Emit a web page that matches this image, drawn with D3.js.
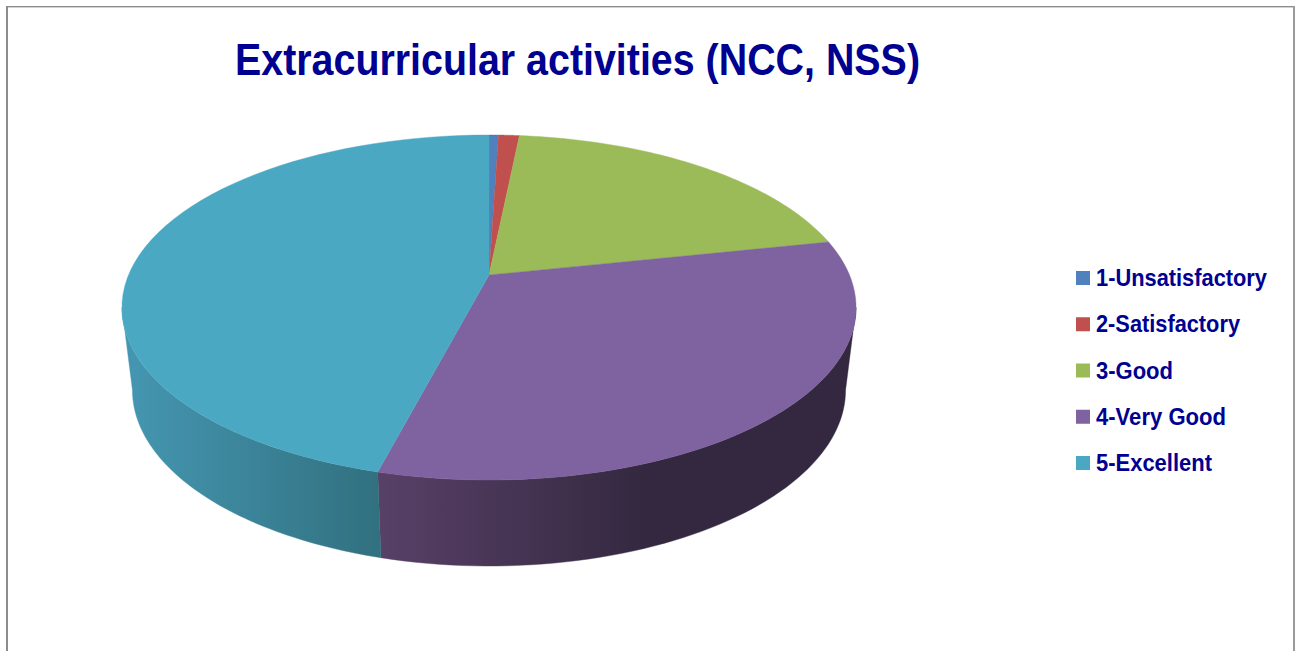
<!DOCTYPE html>
<html><head><meta charset="utf-8">
<script src="https://cdn.jsdelivr.net/npm/d3@7"></script>
<style>html,body{margin:0;padding:0;background:#fff;overflow:hidden}svg{display:block}text{font-family:"Liberation Sans",Arial,sans-serif;font-weight:bold;fill:#000091}</style>
</head><body><svg id="c" width="1295" height="651"></svg>
<script>
const titleText = "Extracurricular activities (NCC, NSS)";
const categories = ["1-Unsatisfactory","2-Satisfactory","3-Good","4-Very Good","5-Excellent"];
const shares = [0.5,1.1,20.1,32.36,45.94];
const colours = ["#4f81bd","#c0504d","#9bbb59","#7f62a0","#4aa8c3"];
const legendWidths = [171,144,77,130,116];

const svg = d3.select("#c");
const W = 1295, H = 651;
// frame
svg.append("rect").attr("x",6).attr("y",6).attr("width",2).attr("height",H-6).attr("fill","#8c8c8c");
svg.append("rect").attr("x",6).attr("y",6).attr("width",W-6).attr("height",1.4).attr("fill","#8c8c8c");
svg.append("rect").attr("x",1293).attr("y",6).attr("width",2).attr("height",H-6).attr("fill","#9a9a9a");

svg.append("text").attr("x",235).attr("y",75).attr("font-size",44)
  .attr("textLength",685).attr("lengthAdjust","spacingAndGlyphs").text(titleText);

// perspective disc projections (angle clockwise from 12 o'clock)
const persp = -0.1884;
const proj = (k,a,b) => t => {
  const u = Math.sin(t), v = -Math.cos(t), w = 1 + persp*v;
  return [489 + k*u/w, (a*v+b)/w];
};
const topFace = proj(360.5,114.6,275);
const botFace = proj(350.2,102.6,356.8);
const line = d3.line();
const arcs = d3.pie().sort(null).startAngle(0).endAngle(2*Math.PI)(shares);
const samples = (a0,a1) => d3.range(0,61).map(i => a0+(a1-a0)*i/60);

const defs = svg.append("defs");
function grad(id,x1,x2,stops){
  const g = defs.append("linearGradient").attr("id",id).attr("gradientUnits","userSpaceOnUse")
    .attr("x1",x1).attr("x2",x2).attr("y1",0).attr("y2",0);
  stops.forEach(s=>g.append("stop").attr("offset",s[0]).attr("stop-color",s[1]));
}
grad("wallTeal",122,381,[[0,"#4597b2"],[1,"#31707f"]]);
grad("wallPurple",381,650,[[0,"#584067"],[1,"#33283f"]]);
const wallFill = {3:"url(#wallPurple)",4:"url(#wallTeal)"};

// visible side wall runs between the silhouette tangents of the disc
const tanR = Math.PI/2 + Math.asin(-persp), tanL = 2*Math.PI - tanR;
arcs.forEach((d,i)=>{
  const a0 = Math.max(d.startAngle,tanR), a1 = Math.min(d.endAngle,tanL);
  if(a1<=a0) return;
  const s = samples(a0,a1);
  const pts = s.map(topFace).concat(s.slice().reverse().map(botFace));
  svg.append("path").attr("d",line(pts)+"Z").attr("fill",wallFill[i]||colours[i])
    .attr("stroke",wallFill[i]||colours[i]).attr("stroke-width",0.4);
});
// top faces
arcs.forEach((d,i)=>{
  const pts = [[489,275]].concat(samples(d.startAngle,d.endAngle).map(topFace));
  svg.append("path").attr("d",line(pts)+"Z").attr("fill",colours[i]).attr("stroke",colours[i]).attr("stroke-width",0.4);
});

// legend
const ly = d3.scalePoint().domain(categories).range([278,463]);
categories.forEach((c,i)=>{
  svg.append("rect").attr("x",1076).attr("y",ly(c)-7).attr("width",14).attr("height",14).attr("fill",colours[i]);
  svg.append("text").attr("x",1096).attr("y",ly(c)+8).attr("font-size",24.5)
    .attr("textLength",legendWidths[i]).attr("lengthAdjust","spacingAndGlyphs").text(c);
});
</script></body></html>
